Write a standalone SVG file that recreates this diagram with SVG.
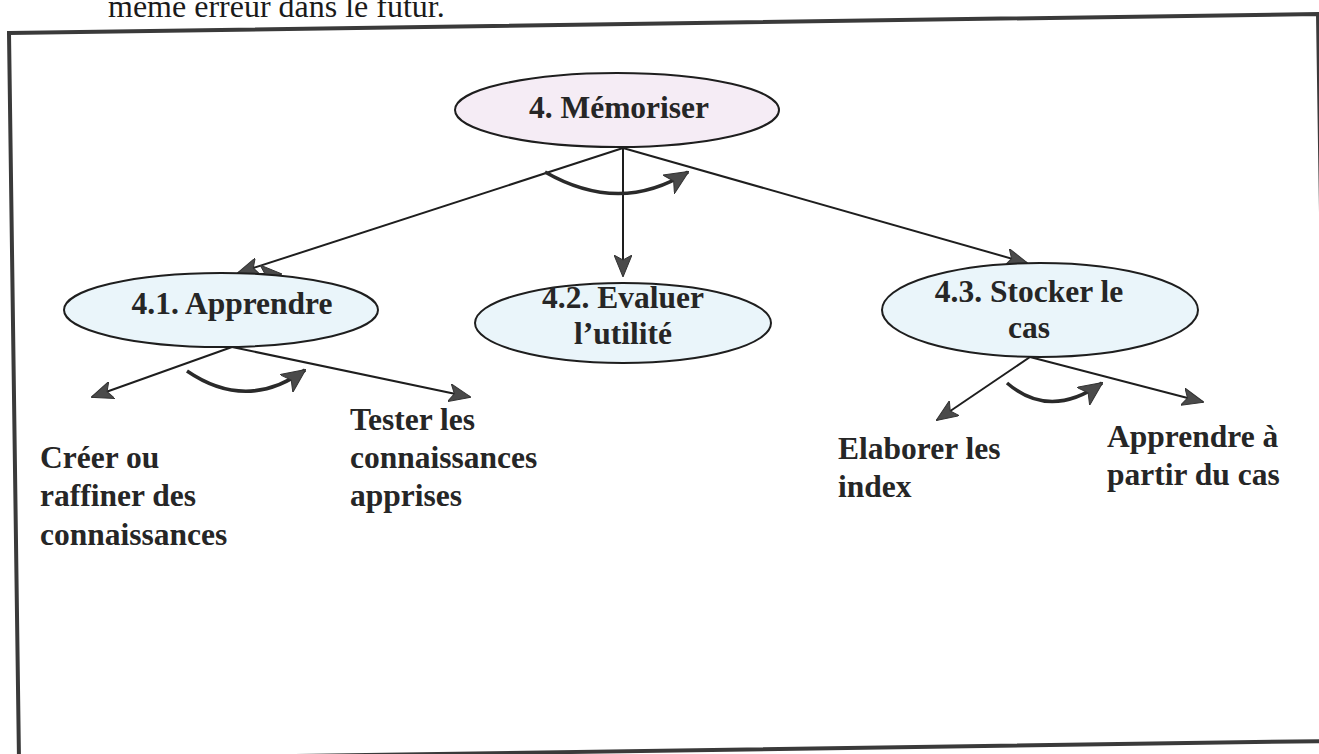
<svg xmlns="http://www.w3.org/2000/svg" width="1319" height="754" viewBox="0 0 1319 754">
  <style>
    .lbl { font-family: "Liberation Serif", "Times New Roman", serif; font-weight: bold; font-size: 31.5px; fill: #262626; }
    .body { font-family: "Liberation Serif", "Times New Roman", serif; font-size: 32px; fill: #1a1a1a; }
    .root { fill: #f5ecf5; stroke: #1e1e1e; stroke-width: 2; }
    .sub { fill: #eaf5fa; stroke: #1e1e1e; stroke-width: 2; }
    .link { fill: none; stroke: #1e1e1e; stroke-width: 2; }
    .seq { fill: none; stroke: #2a2a2a; stroke-width: 3.5; }
  </style>
  <defs>
    <marker id="tip" viewBox="0 0 22 18" refX="21" refY="9" markerWidth="22" markerHeight="18" markerUnits="userSpaceOnUse" orient="auto">
      <path d="M0,0 L22,9 L0,18 L5,9 Z" fill="#4a4a4a" stroke="#333" stroke-width="1"/>
    </marker>
    <marker id="tipBig" viewBox="0 0 24 22" refX="23" refY="11" markerWidth="24" markerHeight="22" markerUnits="userSpaceOnUse" orient="auto">
      <path d="M0,0 L24,11 L0,22 L6,11 Z" fill="#4a4a4a" stroke="#333" stroke-width="1"/>
    </marker>
  </defs>

  <rect width="1319" height="754" fill="#ffffff"/>

  <!-- tail of the preceding paragraph -->
  <text class="body" x="108" y="17">même erreur dans le futur.</text>

  <!-- page frame -->
  <polygon points="9,33 1318,14 1329,741 19,760" fill="none" stroke="#3a3a3a" stroke-width="4"/>

  <g id="connectors">
    <!-- from 4. Mémoriser -->
    <line class="link" x1="623" y1="148" x2="238" y2="273" marker-end="url(#tip)"/>
    <line class="link" x1="246" y1="274" x2="281" y2="274" marker-end="url(#tip)"/>
    <line class="link" x1="623" y1="148" x2="623" y2="276" marker-end="url(#tip)"/>
    <line class="link" x1="623" y1="148" x2="1027" y2="263" marker-end="url(#tip)"/>
    <path class="seq" d="M545,172 Q620,215 688,172" marker-end="url(#tipBig)"/>

    <!-- from 4.1. Apprendre -->
    <line class="link" x1="232" y1="347" x2="92" y2="397" marker-end="url(#tip)"/>
    <line class="link" x1="232" y1="347" x2="470" y2="397" marker-end="url(#tip)"/>
    <path class="seq" d="M187,371 Q247,412 305,370" marker-end="url(#tipBig)"/>

    <!-- from 4.3. Stocker le cas -->
    <line class="link" x1="1030" y1="357" x2="937" y2="420" marker-end="url(#tip)"/>
    <line class="link" x1="1030" y1="357" x2="1203" y2="402" marker-end="url(#tip)"/>
    <path class="seq" d="M1007,383 Q1050,420 1102,383" marker-end="url(#tipBig)"/>
  </g>

  <g id="node-memoriser">
    <ellipse class="root" cx="617" cy="110" rx="162" ry="37"/>
    <text class="lbl" x="619" y="118" text-anchor="middle">4. Mémoriser</text>
  </g>

  <g id="node-apprendre">
    <ellipse class="sub" cx="221" cy="310" rx="157" ry="37"/>
    <text class="lbl" x="232" y="314" text-anchor="middle">4.1. Apprendre</text>
  </g>

  <g id="node-evaluer">
    <ellipse class="sub" cx="623" cy="323" rx="148" ry="40"/>
    <text class="lbl" x="623" y="308" text-anchor="middle">4.2. Evaluer</text>
    <text class="lbl" x="623" y="344" text-anchor="middle">l’utilité</text>
  </g>

  <g id="node-stocker">
    <ellipse class="sub" cx="1040" cy="310" rx="158" ry="47"/>
    <text class="lbl" x="1029" y="302" text-anchor="middle">4.3. Stocker le</text>
    <text class="lbl" x="1029" y="338" text-anchor="middle">cas</text>
  </g>

  <g id="node-creer">
    <text class="lbl" x="40" y="468">Créer ou</text>
    <text class="lbl" x="40" y="506">raffiner des</text>
    <text class="lbl" x="40" y="545">connaissances</text>
  </g>

  <g id="node-tester">
    <text class="lbl" x="350" y="430">Tester les</text>
    <text class="lbl" x="350" y="468">connaissances</text>
    <text class="lbl" x="350" y="506">apprises</text>
  </g>

  <g id="node-index">
    <text class="lbl" x="838" y="459">Elaborer les</text>
    <text class="lbl" x="838" y="497">index</text>
  </g>

  <g id="node-partir">
    <text class="lbl" x="1107" y="447">Apprendre à</text>
    <text class="lbl" x="1107" y="485">partir du cas</text>
  </g>
</svg>
